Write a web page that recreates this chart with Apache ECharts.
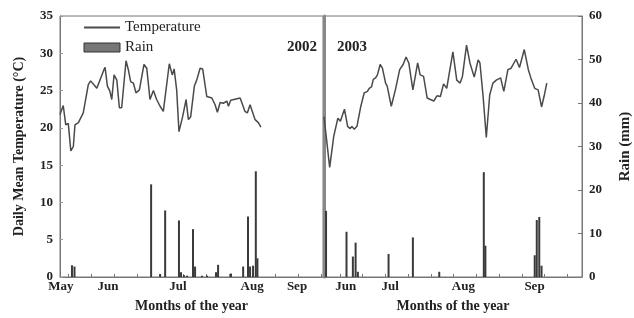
<!DOCTYPE html>
<html>
<head>
<meta charset="utf-8">
<script src="https://cdn.jsdelivr.net/npm/echarts@6/dist/echarts.min.js"></script>
<style>
  html, body { margin: 0; padding: 0; background: #fff; }
  #chart { width: 634px; height: 318px; }
</style>
</head>
<body>
<div id="chart"></div>
<script>
  // days counted from the start of each panel
  var days2002 = [0, 1.4, 2.5, 3.6, 4.7, 5.8, 6.5, 8, 10.1, 12.3, 13.3, 15.2, 16, 19.1, 19.6, 20.6, 21.7, 22.5, 23.5, 24.7,
    25.8, 26.8, 28.7, 29.7, 30.7, 31.9, 33, 34.5, 36.5, 37.7, 39.1, 40.6, 42, 43.5, 44.9, 47.5, 48.8, 49.6, 50.7, 51.7,
    53.3, 54.8, 55.8, 56.8, 58.4, 59.4, 60.9, 62, 63.8, 66, 67.4, 68.4, 69.6, 71, 72.5, 73.2, 74.2, 78.3, 79, 80.4,
    81.4, 82.6, 83.3, 84.8, 86.2, 87.3]
  var temp2002 = [21.8, 23.0, 20.4, 20.6, 16.9, 17.5, 20.4, 20.7, 22.0, 25.8, 26.3, 25.6, 25.3, 27.8, 28.1, 25.6, 24.9, 23.8, 27.1, 26.4,
    22.7, 22.7, 29.0, 27.8, 26.2, 26.0, 24.7, 25.1, 28.5, 28.0, 23.8, 25.0, 23.8, 22.9, 22.2, 28.6, 27.1, 27.9, 25.1, 19.5,
    21.5, 23.8, 21.1, 21.5, 25.6, 26.4, 28.0, 27.9, 24.2, 24.0, 23.1, 22.1, 23.4, 23.3, 23.6, 22.9, 23.7, 24.0, 24.2, 22.2,
    22.0, 23.1, 23.1, 21.1, 20.7, 20.1]
  var days2003 = [0, 2.5, 4.3, 6.1, 7.2, 9, 10.4, 11.5, 12.3, 13.3, 14.5, 16.2, 17.7, 19.1, 19.9, 20.9, 21.7, 22.7, 23.5, 24.7,
    25.7, 27.1, 27.8, 29.6, 31.4, 33.3, 34.8, 36.1, 37.3, 39.1, 41.2, 42.3, 43.8, 45.4, 46.8, 48.3, 49.7, 51.2, 52.6, 54,
    55.1, 56.7, 58.4, 59.9, 60.9, 62.7, 64.2, 66.1, 67.8, 68.6, 70, 71.4, 72.9, 74.3, 75.8, 77.7, 79.1, 80.9, 82.3, 84.5,
    86, 88.1, 89.9, 91, 91.7, 92.7, 94.2, 95.7, 96.8, 98]
  var temp2003 = [21.5, 14.7, 18.9, 21.3, 20.9, 22.5, 20.2, 19.9, 20.2, 19.8, 20.2, 22.9, 24.7, 24.9, 25.3, 25.5, 26.5, 26.7, 27.1, 28.5,
    28.0, 26.0, 25.6, 22.9, 25.1, 27.8, 28.5, 29.5, 28.7, 25.1, 28.7, 27.1, 26.9, 24.0, 23.8, 23.6, 24.3, 24.2, 25.9, 25.3,
    27.3, 30.2, 26.4, 26.0, 26.9, 31.1, 28.7, 26.8, 29.1, 28.7, 24.2, 18.7, 24.4, 26.0, 26.4, 26.7, 24.9, 27.8, 28.0, 29.2,
    28.1, 30.5, 27.8, 26.7, 26.9, 25.3, 25.1, 22.8, 24.2, 26.0]

  var rainDays2002 = [5.2, 6.3, 39.6, 43.5, 45.7, 51.7, 52.6, 53.9, 55.2, 57.8, 58.7, 61.7, 63.9, 67.8, 68.7, 74.3, 79.6, 81.7, 82.6, 83.9, 85.1, 85.8]
  var rain2002 = [2.7, 2.4, 21.3, 0.7, 15.3, 13.0, 1.1, 0.4, 0.3, 11.0, 2.4, 0.3, 0.3, 1.1, 2.8, 0.8, 2.4, 13.9, 2.4, 2.6, 24.3, 4.3]
  var rainDays2003 = [0.9, 9.9, 12.7, 13.9, 14.9, 28.4, 39.1, 50.7, 70.3, 71, 92.7, 93.6, 94.7, 95.7]
  var rain2003 = [15.2, 10.4, 4.7, 7.9, 1.2, 5.3, 9.1, 1.2, 24.1, 7.2, 5.0, 13.1, 13.8, 2.6]

  var months2002 = ['May', 'Jun', 'Jul', 'Aug', 'Sep']
  var monthPos2002 = [0.4, 20.9, 51.3, 83.5, 103]
  var months2003 = ['Jun', 'Jul', 'Aug', 'Sep']
  var monthPos2003 = [9.6, 29.1, 61.3, 92.6]
  var ticks2002 = [3.5, 13.5, 23.5, 33.5, 43.5, 53.5, 63.5, 73.5, 83.5, 93.5, 103.5, 113.5]
  var ticks2003 = [7, 17, 27, 37, 47, 57, 67, 77, 87, 97, 107]

  var serif = '"Liberation Serif", "DejaVu Serif", serif'
  var textColor = '#222'

  function pairs (xs, ys) {
    return xs.map(function (x, i) { return [x, ys[i]] })
  }

  function monthAxis (grid, max, ticks, pos, names) {
    return {
      type: 'value',
      gridIndex: grid,
      min: 0,
      max: max,
      axisLine: { show: true, lineStyle: { color: '#777', width: 1 } },
      axisTick: { show: true, inside: true, length: 3, customValues: ticks, lineStyle: { color: '#777' } },
      axisLabel: {
        customValues: pos,
        margin: 3,
        color: textColor,
        fontFamily: serif,
        fontWeight: 'bold',
        fontSize: 13,
        formatter: function (v) {
          var i = pos.indexOf(v)
          return i >= 0 ? names[i] : ''
        }
      },
      splitLine: { show: false },
      name: 'Months of the year',
      nameLocation: 'middle',
      nameGap: 22,
      nameTextStyle: { color: textColor, fontFamily: serif, fontWeight: 'bold', fontSize: 14 }
    }
  }

  var chart = echarts.init(document.getElementById('chart'))
  var option = {
    animation: false,
    grid: [
      { left: 60, top: 16, width: 263, height: 262, show: true, borderColor: '#777', borderWidth: 1 },
      { left: 324, top: 16, width: 261, height: 262, show: true, borderColor: '#777', borderWidth: 1 }
    ],
    legend: {
      left: 78,
      top: 15,
      orient: 'vertical',
      itemWidth: 36,
      itemHeight: 9,
      itemGap: 5,
      textStyle: { color: textColor, fontFamily: serif, fontSize: 15 },
      data: [
        { name: 'Temperature', itemStyle: { opacity: 0 } },
        { name: 'Rain', icon: 'rect', itemStyle: { color: '#777', borderColor: '#333', borderWidth: 1 } }
      ]
    },
    graphic: [
      { type: 'text', left: 287, top: 40, style: { text: '2002', fill: textColor, font: 'bold 15px ' + serif } },
      { type: 'text', left: 337, top: 40, style: { text: '2003', fill: textColor, font: 'bold 15px ' + serif } }
    ],
    xAxis: [
      monthAxis(0, 114.3, ticks2002, monthPos2002, months2002),
      monthAxis(1, 113.5, ticks2003, monthPos2003, months2003)
    ],
    yAxis: [
      {
        type: 'value',
        gridIndex: 0,
        position: 'left',
        min: 0,
        max: 35,
        interval: 5,
        axisLine: { show: true, lineStyle: { color: '#777' } },
        axisTick: { show: true, inside: true, length: 3, lineStyle: { color: '#999' } },
        axisLabel: { margin: 7, color: textColor, fontFamily: serif, fontWeight: 'bold', fontSize: 13 },
        splitLine: { show: false },
        name: 'Daily Mean Temperature (°C)',
        nameLocation: 'middle',
        nameRotate: 90,
        nameGap: 34,
        nameTextStyle: { color: textColor, fontFamily: serif, fontWeight: 'bold', fontSize: 14 }
      },
      { type: 'value', gridIndex: 0, position: 'right', min: 0, max: 60, show: false },
      {
        // second temperature scale, only its line is drawn as the panel divider
        type: 'value',
        gridIndex: 1,
        position: 'left',
        min: 0,
        max: 35,
        axisLine: { show: true, lineStyle: { color: '#888', width: 3 } },
        axisTick: { show: false },
        axisLabel: { show: false },
        splitLine: { show: false }
      },
      {
        type: 'value',
        gridIndex: 1,
        position: 'right',
        min: 0,
        max: 60,
        interval: 10,
        axisLine: { show: true, lineStyle: { color: '#777' } },
        axisTick: { show: true, inside: true, length: 4, lineStyle: { color: '#777' } },
        axisLabel: { margin: 7, color: textColor, fontFamily: serif, fontWeight: 'bold', fontSize: 13 },
        splitLine: { show: false },
        name: 'Rain (mm)',
        nameLocation: 'middle',
        nameRotate: 90,
        nameGap: 36,
        nameTextStyle: { color: textColor, fontFamily: serif, fontWeight: 'bold', fontSize: 15 }
      }
    ],
    series: [
      {
        name: 'Rain',
        type: 'bar',
        xAxisIndex: 0,
        yAxisIndex: 1,
        barWidth: 2,
        itemStyle: { color: '#3a3a3a' },
        data: pairs(rainDays2002, rain2002)
      },
      {
        name: 'Rain',
        type: 'bar',
        xAxisIndex: 1,
        yAxisIndex: 3,
        barWidth: 2,
        itemStyle: { color: '#3a3a3a' },
        data: pairs(rainDays2003, rain2003)
      },
      {
        name: 'Temperature',
        type: 'line',
        xAxisIndex: 0,
        yAxisIndex: 0,
        symbol: 'none',
        lineStyle: { color: '#4a4a4a', width: 1.5 },
        itemStyle: { color: '#4a4a4a' },
        data: pairs(days2002, temp2002)
      },
      {
        name: 'Temperature',
        type: 'line',
        xAxisIndex: 1,
        yAxisIndex: 2,
        symbol: 'none',
        lineStyle: { color: '#4a4a4a', width: 1.5 },
        itemStyle: { color: '#4a4a4a' },
        data: pairs(days2003, temp2003)
      }
    ]
  }
  chart.setOption(option)
</script>
</body>
</html>
